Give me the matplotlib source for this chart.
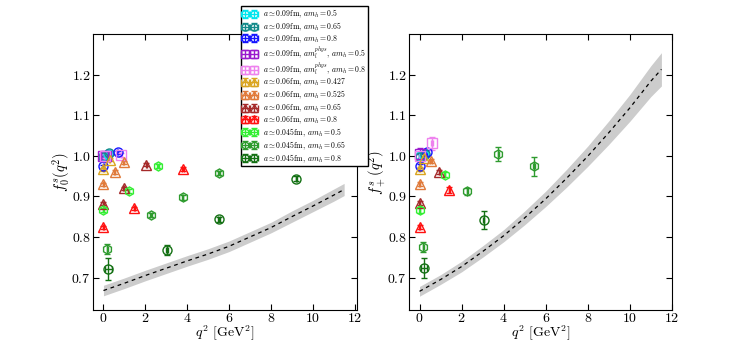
import numpy as np
import matplotlib
matplotlib.use("Agg")
import matplotlib.pyplot as plt

plt.rcParams['font.family'] = 'serif'
plt.rcParams['font.serif'] = ['cmr10', 'DejaVu Serif']
plt.rcParams['mathtext.fontset'] = 'cm'
plt.rcParams['axes.formatter.use_mathtext'] = True
plt.rcParams['axes.unicode_minus'] = False

# fit curves
fit_q2 = [0, 1, 2, 3, 4, 5, 6, 7, 8, 9, 10, 11, 11.5]
f0_fit = [0.668, 0.686, 0.705, 0.723, 0.741, 0.758, 0.777, 0.800, 0.823, 0.850, 0.876, 0.903, 0.917]
f0_band = [0.013, 0.013, 0.013, 0.013, 0.013, 0.013, 0.013, 0.013, 0.013, 0.014, 0.014, 0.015, 0.015]
fp_fit = [0.666, 0.695, 0.727, 0.764, 0.803, 0.847, 0.894, 0.945, 0.999, 1.057, 1.118, 1.184, 1.213]
fp_band = [0.012, 0.012, 0.013, 0.014, 0.015, 0.017, 0.019, 0.022, 0.025, 0.029, 0.033, 0.038, 0.041]

# lattice points: (q2, f0, err) and (q2, f+, err)
c09_05_q2_0 = [0.0, 0.2];   c09_05_f0 = [1.000, 1.004];  c09_05_e0 = [0.004, 0.004]
c09_05_q2_p = [0.0, 0.2];   c09_05_fp = [1.000, 1.002];  c09_05_ep = [0.006, 0.006]
c09_065_q2_0 = [0.0, 0.25]; c09_065_f0 = [0.996, 1.007]; c09_065_e0 = [0.004, 0.004]
c09_065_q2_p = [0.0, 0.25]; c09_065_fp = [0.998, 1.005]; c09_065_ep = [0.006, 0.006]
c09_08_q2_0 = [0.0, 0.68];  c09_08_f0 = [0.974, 1.009];  c09_08_e0 = [0.004, 0.004]
c09_08_q2_p = [0.0, 0.35];  c09_08_fp = [0.974, 1.009];  c09_08_ep = [0.005, 0.006]
p09_05_q2_0 = [0.0, 0.12];  p09_05_f0 = [1.000, 1.000];  p09_05_e0 = [0.006, 0.006]
p09_05_q2_p = [0.0];        p09_05_fp = [1.005];         p09_05_ep = [0.015]
p09_08_q2_0 = [0.05, 0.85]; p09_08_f0 = [1.000, 1.002];  p09_08_e0 = [0.005, 0.006]
p09_08_q2_p = [0.0, 0.6];   p09_08_fp = [1.000, 1.031];  p09_08_ep = [0.010, 0.016]
c06_0427_q2_0 = [0.0, 0.3];  c06_0427_f0 = [0.967, 0.990]; c06_0427_e0 = [0.004, 0.004]
c06_0427_q2_p = [0.0, 0.2];  c06_0427_fp = [0.967, 0.995]; c06_0427_ep = [0.005, 0.005]
c06_0525_q2_0 = [0.0, 0.53, 0.96]; c06_0525_f0 = [0.930, 0.960, 0.984]; c06_0525_e0 = [0.004, 0.004, 0.004]
c06_0525_q2_p = [0.0, 0.55]; c06_0525_fp = [0.930, 0.987]; c06_0525_ep = [0.005, 0.006]
c06_065_q2_0 = [0.0, 0.96, 2.04]; c06_065_f0 = [0.882, 0.920, 0.978]; c06_065_e0 = [0.004, 0.004, 0.004]
c06_065_q2_p = [0.0, 0.95]; c06_065_fp = [0.883, 0.960]; c06_065_ep = [0.005, 0.006]
c06_08_q2_0 = [0.0, 1.47, 3.80]; c06_08_f0 = [0.824, 0.871, 0.968]; c06_08_e0 = [0.004, 0.004, 0.005]
c06_08_q2_p = [0.0, 1.42]; c06_08_fp = [0.824, 0.915]; c06_08_ep = [0.005, 0.007]
c045_05_q2_0 = [0.0, 1.2, 2.6]; c045_05_f0 = [0.866, 0.914, 0.975]; c045_05_e0 = [0.005, 0.005, 0.005]
c045_05_q2_p = [0.0, 1.19]; c045_05_fp = [0.867, 0.953]; c045_05_ep = [0.007, 0.006]
c045_065_q2_0 = [0.19, 2.27, 3.78, 5.52]; c045_065_f0 = [0.770, 0.854, 0.898, 0.957]; c045_065_e0 = [0.012, 0.006, 0.006, 0.005]
c045_065_q2_p = [0.19, 2.28, 3.75, 5.44]; c045_065_fp = [0.775, 0.912, 1.004, 0.974]; c045_065_ep = [0.012, 0.008, 0.017, 0.023]
c045_08_q2_0 = [0.24, 3.03, 5.52, 9.22]; c045_08_f0 = [0.721, 0.768, 0.844, 0.943]; c045_08_e0 = [0.026, 0.013, 0.006, 0.006]
c045_08_q2_p = [0.2, 3.05]; c045_08_fp = [0.724, 0.841]; c045_08_ep = [0.025, 0.022]

labels = [r'$a \simeq 0.09$fm, $am_h = 0.5$',
          r'$a \simeq 0.09$fm, $am_h = 0.65$',
          r'$a \simeq 0.09$fm, $am_h = 0.8$',
          r'$a \simeq 0.09$fm, $am_l^{phys}$, $am_h = 0.5$',
          r'$a \simeq 0.09$fm, $am_l^{phys}$, $am_h = 0.8$',
          r'$a \simeq 0.06$fm, $am_h = 0.427$',
          r'$a \simeq 0.06$fm, $am_h = 0.525$',
          r'$a \simeq 0.06$fm, $am_h = 0.65$',
          r'$a \simeq 0.06$fm, $am_h = 0.8$',
          r'$a \simeq 0.045$fm, $am_h = 0.5$',
          r'$a \simeq 0.045$fm, $am_h = 0.65$',
          r'$a \simeq 0.045$fm, $am_h = 0.8$']
colors = ['#00e5ee', '#138a8a', '#1414ff', '#9a1acd', '#ee82ee', '#daa520',
          '#e07a3a', '#a52a2a', '#ff1010', '#33ee33', '#2e9b2e', '#137013']
markers = ['o', 'o', 'o', 's', 's', '^', '^', '^', '^', 'h', 'h', 'o']

set0 = [(c09_05_q2_0, c09_05_f0, c09_05_e0), (c09_065_q2_0, c09_065_f0, c09_065_e0),
        (c09_08_q2_0, c09_08_f0, c09_08_e0), (p09_05_q2_0, p09_05_f0, p09_05_e0),
        (p09_08_q2_0, p09_08_f0, p09_08_e0), (c06_0427_q2_0, c06_0427_f0, c06_0427_e0),
        (c06_0525_q2_0, c06_0525_f0, c06_0525_e0), (c06_065_q2_0, c06_065_f0, c06_065_e0),
        (c06_08_q2_0, c06_08_f0, c06_08_e0), (c045_05_q2_0, c045_05_f0, c045_05_e0),
        (c045_065_q2_0, c045_065_f0, c045_065_e0), (c045_08_q2_0, c045_08_f0, c045_08_e0)]
setp = [(c09_05_q2_p, c09_05_fp, c09_05_ep), (c09_065_q2_p, c09_065_fp, c09_065_ep),
        (c09_08_q2_p, c09_08_fp, c09_08_ep), (p09_05_q2_p, p09_05_fp, p09_05_ep),
        (p09_08_q2_p, p09_08_fp, p09_08_ep), (c06_0427_q2_p, c06_0427_fp, c06_0427_ep),
        (c06_0525_q2_p, c06_0525_fp, c06_0525_ep), (c06_065_q2_p, c06_065_fp, c06_065_ep),
        (c06_08_q2_p, c06_08_fp, c06_08_ep), (c045_05_q2_p, c045_05_fp, c045_05_ep),
        (c045_065_q2_p, c045_065_fp, c045_065_ep), (c045_08_q2_p, c045_08_fp, c045_08_ep)]

fig = plt.figure(figsize=(7.47, 3.45), dpi=100)
ax1 = fig.add_axes([0.1245, 0.1014, 0.353, 0.80])
ax2 = fig.add_axes([0.5475, 0.1014, 0.352, 0.80])


def draw(ax, data, fit, band, ylab, xmax, ylab_x):
    fit = np.array(fit)
    band = np.array(band)
    ax.fill_between(fit_q2, fit - band, fit + band, color='#cccccc', lw=0, zorder=1)
    ax.plot(fit_q2, fit, color='k', ls='--', lw=0.9, dashes=(3, 3), zorder=2)
    handles = []
    for i, (x, y, e) in enumerate(data):
        xe = [0.15 if (i == 11 and v < 1) else 0.03 for v in x]
        h = ax.errorbar(x, y, yerr=e, xerr=xe, fmt=markers[i], color=colors[i],
                        mfc='none', mec=colors[i], ms=6.5, mew=1.0, elinewidth=1.0,
                        capsize=2, label=labels[i], zorder=3)
        handles.append(h)
    ax.set_xlim(-0.5, xmax)
    ax.set_ylim(0.62, 1.30)
    ax.set_xticks([0, 2, 4, 6, 8, 10, 12])
    ax.set_yticks([0.7, 0.8, 0.9, 1.0, 1.1, 1.2])
    ax.tick_params(direction='in', top=True, right=True, labelsize=10, length=4, pad=1.5)
    ax.set_xlabel(r'$q^2$ [GeV$^2$]', fontsize=10)
    ax.set_ylabel(ylab, fontsize=10.5)
    ax.xaxis.set_label_coords(0.5, -0.05)
    ax.yaxis.set_label_coords(ylab_x, 0.5)
    return handles


hs = draw(ax1, set0, f0_fit, f0_band, r'$f_0^s(q^2)$', 12.1, -0.078)
draw(ax2, setp, fp_fit, fp_band, r'$f_+^s(q^2)$', 12.0, -0.08)

leg = fig.legend(handles=hs, loc='upper left', bbox_to_anchor=(241 / 747, 1 - 5.7 / 345),
                 borderaxespad=0, fontsize=5.6, numpoints=2, markerscale=0.8,
                 labelspacing=0.05, handlelength=1.7, handletextpad=0.9,
                 borderpad=0.25, fancybox=False, framealpha=1, edgecolor='k')
leg.get_frame().set_linewidth(1.0)

fig.savefig('out.png', dpi=100)
